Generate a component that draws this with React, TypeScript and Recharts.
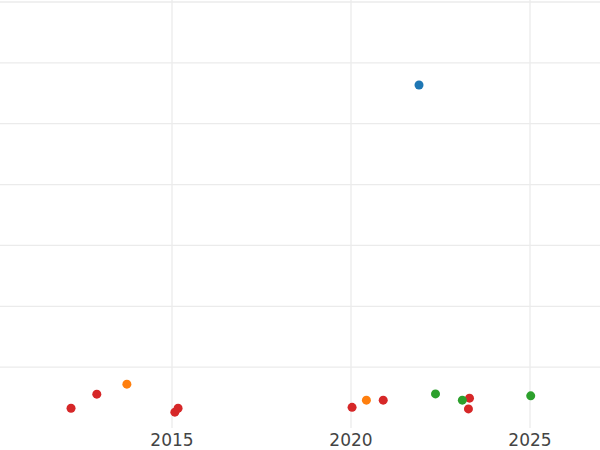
import React from "react";
import { ScatterChart, Scatter, XAxis, YAxis, CartesianGrid } from "recharts";

const redPoints = [
  { x: 2012.18, y: 0.325 },
  { x: 2012.9, y: 0.556 },
  { x: 2015.08, y: 0.26 },
  { x: 2015.17, y: 0.325 },
  { x: 2020.03, y: 0.34 },
  { x: 2020.9, y: 0.457 },
  { x: 2023.31, y: 0.49 },
  { x: 2023.28, y: 0.314 },
];
const orangePoints = [
  { x: 2013.74, y: 0.72 },
  { x: 2020.43, y: 0.457 },
];
const greenPoints = [
  { x: 2022.36, y: 0.56 },
  { x: 2023.11, y: 0.457 },
  { x: 2025.02, y: 0.528 },
];
const bluePoints = [{ x: 2021.9, y: 5.636 }];

const xTicks = [2015, 2020, 2025];
const yTicks = [1, 2, 3, 4, 5, 6, 7];

const Dot = (color: string) => (props: any) => {
  const { cx, cy } = props;
  if (cx == null || cy == null) return <g />;
  return <circle cx={cx} cy={cy} r={4.5} fill={color} />;
};

export default function App() {
  return (
    <div style={{ position: "absolute", left: 0, top: 0, width: 600, height: 450, background: "#fff", overflow: "hidden" }}>
      <ScatterChart width={600} height={450} margin={{ top: 0, right: 0, bottom: 0, left: 0 }}>
        <CartesianGrid
          stroke="#ebebeb"
          strokeWidth={1.3}
          horizontalValues={yTicks}
          verticalValues={xTicks}
        />
        <XAxis
          type="number"
          dataKey="x"
          domain={[2010.196, 2026.955]}
          ticks={xTicks}
          allowDataOverflow
          axisLine={false}
          tickLine={false}
          tickSize={4}
          height={22}
          tick={{ fill: "#444", fontSize: 17, fontFamily: "DejaVu Sans" }}
        />
        <YAxis type="number" dataKey="y" domain={[0, 7.033]} ticks={yTicks} hide allowDataOverflow />
        <Scatter data={redPoints} fill="#d62728" shape={Dot("#d62728")} isAnimationActive={false} />
        <Scatter data={orangePoints} fill="#ff7f0e" shape={Dot("#ff7f0e")} isAnimationActive={false} />
        <Scatter data={greenPoints} fill="#2ca02c" shape={Dot("#2ca02c")} isAnimationActive={false} />
        <Scatter data={bluePoints} fill="#1f77b4" shape={Dot("#1f77b4")} isAnimationActive={false} />
      </ScatterChart>
    </div>
  );
}
